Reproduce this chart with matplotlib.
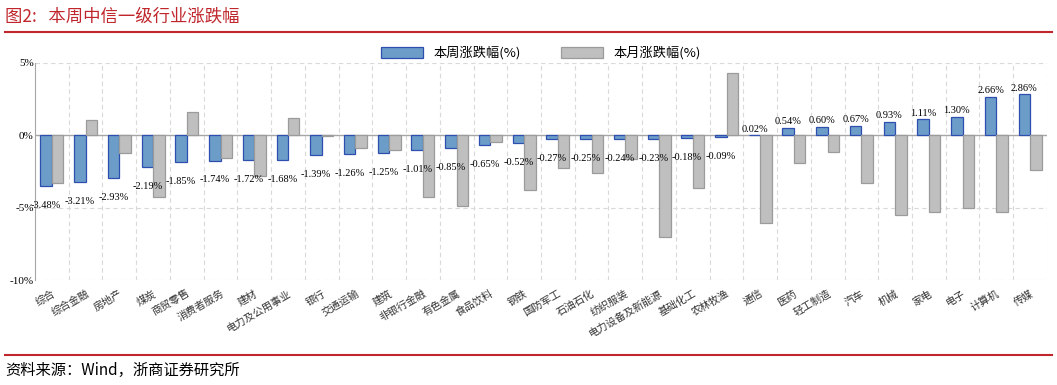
import matplotlib
matplotlib.use('Agg')
import matplotlib.pyplot as plt
import numpy as np

plt.rcParams['font.family'] = ['Noto Sans CJK SC', 'DejaVu Sans']
plt.rcParams['axes.unicode_minus'] = False

# 行业名称
industries = ['综合', '综合金融', '房地产', '煤炭', '商贸零售', '消费者服务', '建材',
              '电力及公用事业', '银行', '交通运输', '建筑', '非银行金融', '有色金属',
              '食品饮料', '钢铁', '国防军工', '石油石化', '纺织服装', '电力设备及新能源',
              '基础化工', '农林牧渔', '通信', '医药', '轻工制造', '汽车', '机械', '家电',
              '电子', '计算机', '传媒']
# 本周涨跌幅(%)
week_chg = [-3.48, -3.21, -2.93, -2.19, -1.85, -1.74, -1.72, -1.68, -1.39, -1.26,
            -1.25, -1.01, -0.85, -0.65, -0.52, -0.27, -0.25, -0.24, -0.23, -0.18,
            -0.09, 0.02, 0.54, 0.60, 0.67, 0.93, 1.11, 1.30, 2.66, 2.86]
# 本月涨跌幅(%)
month_chg = [-3.30, 1.09, -1.19, -4.23, 1.63, -1.60, -2.81, 1.23, -0.08, -0.86,
             -1.02, -4.23, -4.88, -0.47, -3.81, -2.26, -2.60, -1.63, -7.05, -3.65,
             4.33, -6.05, -1.91, -1.14, -3.30, -5.53, -5.28, -5.00, -5.30, -2.40]
yticks = [-10, -5, 0, 5]

red = '#c0272d'
fig = plt.figure(figsize=(10.57, 3.85), dpi=100)
ax = fig.add_axes([0.0331, 0.2727, 0.9574, 0.5637])

x = np.arange(len(industries))
w = 0.34
ax.bar(x - w/2, week_chg, w, color='#6b9dc8', edgecolor='#2f4fb0', linewidth=0.9,
       label='本周涨跌幅(%)', zorder=3)
ax.bar(x + w/2, month_chg, w, color='#bfbfbf', edgecolor='#9b9b9b', linewidth=0.9,
       label='本月涨跌幅(%)', zorder=3)

for i, v in enumerate(week_chg):
    if v < 0:
        ax.annotate('%.2f%%' % v, (x[i] - w/2, v), xytext=(0, -14), textcoords='offset points',
                    ha='center', va='center', fontsize=7.5, family='Liberation Serif', zorder=4)
    else:
        ax.annotate('%.2f%%' % v, (x[i] - w/2, v), xytext=(0, 1), textcoords='offset points',
                    ha='center', va='bottom', fontsize=7.5, family='Liberation Serif', zorder=4)

ax.set_xlim(-0.5, len(industries) - 0.5)
ax.set_ylim(-10, 5)
ax.set_yticks(yticks)
ax.set_yticklabels(['%d%%' % t for t in yticks], family='Liberation Serif', fontsize=8)
ax.tick_params(axis='y', length=0, pad=1)

# 网格：类别边界竖虚线 + 横虚线
for b in np.arange(0.5, len(industries), 1.0):
    ax.axvline(b, color='#d9d9d9', linestyle=(0, (4, 3)), linewidth=0.8, zorder=1)
for t in [-10, -5, 5]:
    ax.axhline(t, color='#d9d9d9', linestyle=(0, (4, 3)), linewidth=0.8, zorder=1)
ax.axhline(0, color='#a6a6a6', linewidth=1.0, zorder=2)

ax.set_xticks(x)
ax.set_xticklabels(industries, rotation=30, ha='right', rotation_mode='anchor', fontsize=7.5,
                   color='#333333')
ax.tick_params(axis='x', length=0, pad=6)

for s in ['top', 'right', 'bottom']:
    ax.spines[s].set_visible(False)
ax.spines['left'].set_color('#a6a6a6')

ax.legend(loc='lower center', bbox_to_anchor=(0.5, 0.99), ncol=2, frameon=False,
          fontsize=9.5, handlelength=3.2, handleheight=0.9, columnspacing=3, borderaxespad=0)

# 标题与来源
fig.text(0.005, 0.958, '图2:   本周中信一级行业涨跌幅', color=red, fontsize=12.5, va='center')
fig.add_artist(plt.Line2D([0.005, 0.995], [0.917, 0.917], color=red, linewidth=1.5))
fig.add_artist(plt.Line2D([0.005, 0.995], [0.078, 0.078], color=red, linewidth=1.5))
fig.text(0.005, 0.039, '资料来源：Wind，浙商证券研究所', fontsize=11, va='center',
         family=['Noto Sans CJK SC', 'Liberation Serif'])

fig.savefig('out.png', dpi=100)
